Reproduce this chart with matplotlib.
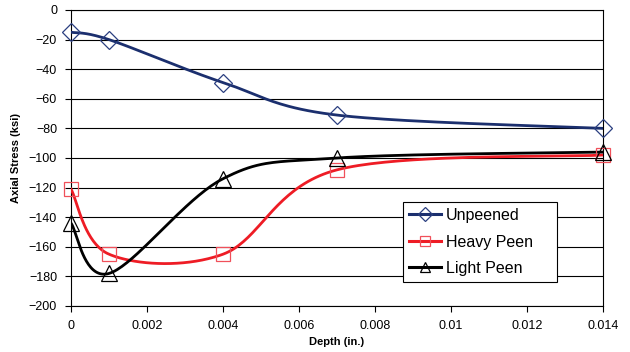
import numpy as np
import matplotlib
matplotlib.use("Agg")
import matplotlib.pyplot as plt
from matplotlib.lines import Line2D

plt.rcParams['font.family'] = ['Liberation Sans', 'DejaVu Sans']

depth = [0, 0.001, 0.004, 0.007, 0.014]
unpeened = [-15, -20, -49, -71, -80]
heavy = [-121, -165, -165, -108, -98]
light = [-144, -178, -114, -100, -96]


def excel_smooth(x, y, n=40):
    # bezier smoothing like a spreadsheet "smoothed line"
    p = np.column_stack([x, y]).astype(float)
    k = len(p)
    out = []
    for i in range(k - 1):
        p0 = p[i]
        p3 = p[i + 1]
        prev = p[i - 1] if i > 0 else p[i]
        nxt = p[i + 2] if i + 2 < k else p[i + 1]
        c1 = p0 + (p3 - prev) / 6
        c2 = p3 - (nxt - p0) / 6
        t = np.linspace(0, 1, n, endpoint=False)[:, None]
        seg = ((1 - t) ** 3 * p0 + 3 * (1 - t) ** 2 * t * c1
               + 3 * (1 - t) * t ** 2 * c2 + t ** 3 * p3)
        out.append(seg)
    out.append(p[-1:])
    out = np.vstack(out)
    return out[:, 0], out[:, 1]


fig = plt.figure(figsize=(6.3, 3.52), dpi=100)
ax = fig.add_axes([71 / 630, 1 - 306 / 352, 532 / 630, 296 / 352])

series = [
    (unpeened, 'Unpeened', '#1b2f6e', '#2b3f80', 'D', 9),
    (heavy, 'Heavy Peen', '#ee1c25', '#f0505a', 's', 10),
    (light, 'Light Peen', '#000000', '#000000', '^', 11),
]
handles = []
for vals, name, col, mcol, mk, ms in series:
    sx, sy = excel_smooth(depth, vals)
    ax.plot(sx, sy, color=col, lw=2.0, zorder=3)
    ax.plot(depth, vals, ls='none', marker=mk, ms=ms, mfc='none',
            mec=mcol, mew=0.9, zorder=4, clip_on=False)
    handles.append(Line2D([], [], color=col, lw=2.2, marker=mk, ms=7,
                          mfc='none', mec=mcol, mew=0.9, label=name))

ax.set_xlim(0, 0.014)
ax.set_ylim(-200, 0)
ax.set_xticks(np.arange(0, 0.0141, 0.002))
ax.set_xticklabels(['0', '0.002', '0.004', '0.006', '0.008', '0.01', '0.012', '0.014'])
ax.set_yticks(range(-200, 1, 20))
ax.yaxis.grid(True, color='black', lw=0.8)
ax.set_axisbelow(True)
ax.tick_params(labelsize=9, length=4, width=0.8, direction='out', pad=6)
for s in ax.spines.values():
    s.set_linewidth(0.8)
ax.set_xlabel('Depth (in.)', fontsize=8, fontweight='bold', labelpad=4)
ax.set_ylabel('Axial Stress (ksi)', fontsize=8, fontweight='bold', labelpad=6)

x0 = (403 - 71) / 532
x1 = (557 - 71) / 532
ytop = 1 - (202 - 10) / 296
leg = ax.legend(handles=handles, loc='upper left',
                bbox_to_anchor=(x0, ytop - 0.3, x1 - x0, 0.3), mode='expand',
                borderaxespad=0, fontsize=11.5, frameon=True, fancybox=False,
                framealpha=1, edgecolor='black', handlelength=2.0,
                borderpad=0.38, labelspacing=0.72, handletextpad=0.3)
leg.get_frame().set_linewidth(0.8)

fig.savefig('out.png', dpi=100)
